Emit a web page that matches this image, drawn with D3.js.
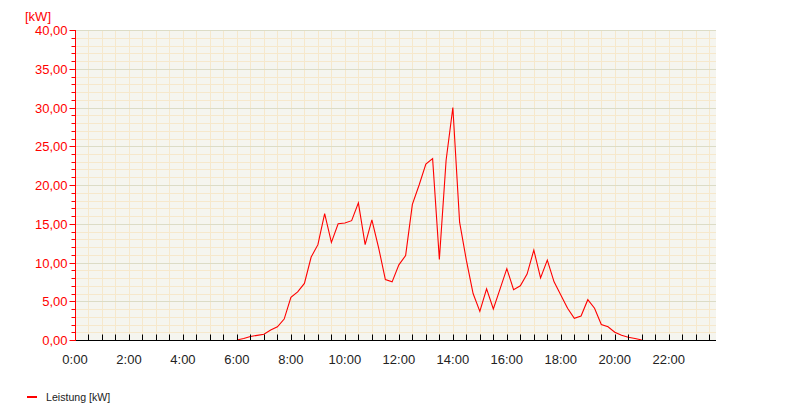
<!DOCTYPE html>
<html><head><meta charset="utf-8">
<script src="https://cdn.jsdelivr.net/npm/d3@7"></script>
<style>body{margin:0;background:#fff}svg{display:block;font-family:"Liberation Sans",Arial,sans-serif}</style>
</head><body><svg id="c" width="790" height="420"></svg>
<script>
const times = ["6:00","6:15","6:30","6:45","7:00","7:15","7:30","7:45","8:00","8:15","8:30","8:45",
"9:00","9:15","9:30","9:45","10:00","10:15","10:30","10:45","11:00","11:15","11:30","11:45",
"12:00","12:15","12:30","12:45","13:00","13:15","13:30","13:45","14:00","14:15","14:30","14:45",
"15:00","15:15","15:30","15:45","16:00","16:15","16:30","16:45","17:00","17:15","17:30","17:45",
"18:00","18:15","18:30","18:45","19:00","19:15","19:30","19:45","20:00","20:15","20:30","20:45","21:00"];
const leistung = [0,0.2,0.45,0.6,0.75,1.3,1.7,2.7,5.5,6.2,7.3,10.7,
12.3,16.3,12.6,15.0,15.1,15.4,17.7,12.3,15.5,11.9,7.8,7.5,
9.7,10.9,17.5,20.0,22.7,23.4,10.4,23.2,30.0,15.2,10.3,6.0,
3.7,6.6,4.0,6.6,9.2,6.5,7.0,8.5,11.6,8.0,10.3,7.5,
5.8,4.1,2.8,3.1,5.2,4.1,2.0,1.7,1.0,0.6,0.35,0.2,0];
const yTicks = [0,5,10,15,20,25,30,35,40];
const xTickLabels = ["0:00","2:00","4:00","6:00","8:00","10:00","12:00","14:00","16:00","18:00","20:00","22:00"];
const seriesName = "Leistung [kW]";
const unitLabel = "[kW]";

const svg = d3.select("#c");
const L=75, T=30, R=716, B=340;
const toH = s => { const [h,m] = s.split(":").map(Number); return h + m/60; };
const x = d3.scaleLinear().domain([0, 23.75]).range([L, R]);
const y = d3.scaleLinear().domain([0, 40]).range([B, T]);

svg.append("rect").attr("x",L).attr("y",T).attr("width",R-L).attr("height",B-T).attr("fill","#f5f5ef");
const halfHours = d3.range(0.5, 23.75, 0.5);
svg.append("g").selectAll("line").data(halfHours).join("line")
  .attr("x1",d=>Math.round(x(d))+0.5).attr("x2",d=>Math.round(x(d))+0.5).attr("y1",T).attr("y2",B)
  .attr("stroke","#f6e8cc").attr("stroke-width",1);
const minorY = d3.range(1,40).filter(d=>d%5!==0);
svg.append("g").selectAll("line").data(minorY).join("line")
  .attr("x1",L).attr("x2",R).attr("y1",d=>Math.round(y(d))+0.5).attr("y2",d=>Math.round(y(d))+0.5)
  .attr("stroke","#f6e8cc").attr("stroke-width",1);
svg.append("g").selectAll("line").data(yTicks.filter(d=>d>0)).join("line")
  .attr("x1",L).attr("x2",R).attr("y1",d=>Math.round(y(d))+0.5).attr("y2",d=>Math.round(y(d))+0.5)
  .attr("stroke","#dcdcc6").attr("stroke-width",1);

// line
const data = times.map((t,i)=>({t:toH(t), v:leistung[i]}));
svg.append("path").datum(data)
  .attr("d", d3.line().x(d=>x(d.t)).y(d=>y(d.v)))
  .attr("fill","none").attr("stroke","#ff0000").attr("stroke-width",1.1);

// x axis
const xa = svg.append("g").attr("transform",`translate(0,${B+0.5})`);
xa.append("line").attr("x1",L).attr("x2",R).attr("stroke","#000");
xa.selectAll("line.t").data(halfHours).join("line").attr("class","t")
  .attr("x1",d=>Math.round(x(d))+0.5).attr("x2",d=>Math.round(x(d))+0.5).attr("y1",0).attr("y2",-6).attr("stroke","#000");
xa.selectAll("text").data(xTickLabels).join("text")
  .attr("x",d=>x(toH(d))).attr("y",23).attr("text-anchor","middle")
  .attr("font-size",13).attr("fill","#222").text(d=>d);

// y axis
const ya = svg.append("g").attr("transform",`translate(${L+0.5},0)`);
ya.append("line").attr("y1",T).attr("y2",B+1).attr("stroke","#ff0000");
ya.selectAll("line.m").data(minorY).join("line").attr("class","m")
  .attr("y1",d=>Math.round(y(d))+0.5).attr("y2",d=>Math.round(y(d))+0.5).attr("x1",-4).attr("x2",0).attr("stroke","#ff0000");
ya.selectAll("line.M").data(yTicks).join("line").attr("class","M")
  .attr("y1",d=>Math.round(y(d))+0.5).attr("y2",d=>Math.round(y(d))+0.5).attr("x1",-6).attr("x2",0).attr("stroke","#ff0000");
const fmt = d => d3.format(".2f")(d).replace(".",",");
ya.selectAll("text").data(yTicks).join("text")
  .attr("x",-8).attr("y",d=>y(d)+5).attr("text-anchor","end")
  .attr("font-size",13).attr("fill","#ff0000").text(fmt);
svg.append("text").attr("x",25).attr("y",21).attr("font-size",13).attr("fill","#ff0000").text(unitLabel);

// legend
svg.append("line").attr("x1",27).attr("x2",37).attr("y1",397).attr("y2",397).attr("stroke","#ff0000").attr("stroke-width",2);
svg.append("text").attr("x",46).attr("y",401).attr("font-size",10.6).attr("fill","#222").text(seriesName);
</script></body></html>
